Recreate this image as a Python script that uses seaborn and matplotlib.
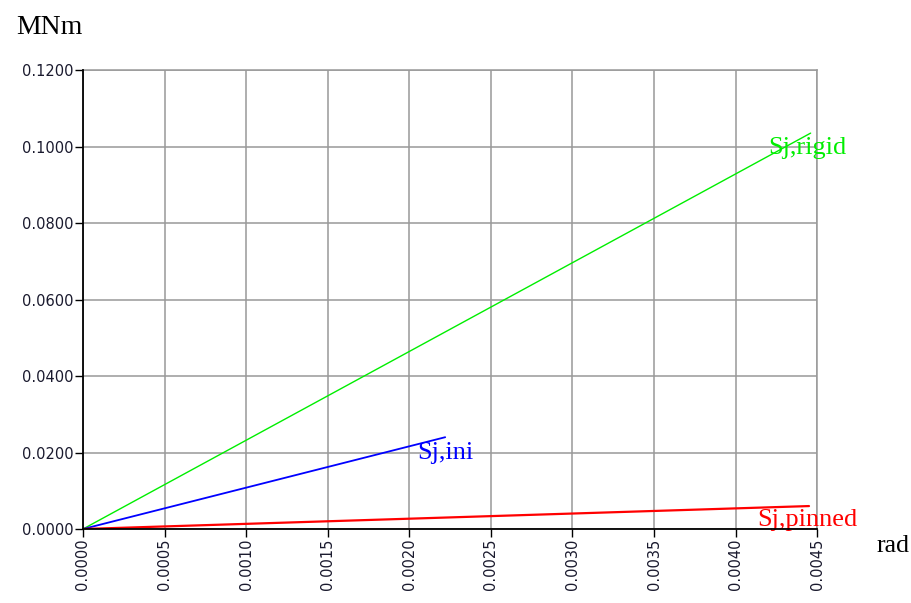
import numpy as np
import pandas as pd
import matplotlib
matplotlib.use("Agg")
import matplotlib.pyplot as plt
import seaborn as sns

# ── data ──
series_names = ["Sj,rigid", "Sj,ini", "Sj,pinned"]
series_colors = ["#00ee00", "#0000ff", "#ff0000"]
rigid_rad = [0.0, 0.00446]
rigid_mnm = [0.0, 0.1035]
ini_rad = [0.0, 0.00222]
ini_mnm = [0.0, 0.0240]
pinned_rad = [0.0, 0.00445]
pinned_mnm = [0.0, 0.0060]

# label anchors (left edge, vertical centre) in data units
label_rad = [0.00420, 0.00205, 0.00413]
label_mnm = [0.0996, 0.0200, 0.0024]

x_ticks = np.arange(0, 0.00451, 0.0005)
y_ticks = np.arange(0, 0.1201, 0.02)

df = pd.concat([
    pd.DataFrame({"rad": rigid_rad, "MNm": rigid_mnm, "curve": "Sj,rigid"}),
    pd.DataFrame({"rad": ini_rad, "MNm": ini_mnm, "curve": "Sj,ini"}),
    pd.DataFrame({"rad": pinned_rad, "MNm": pinned_mnm, "curve": "Sj,pinned"}),
])

sns.set_style("white")
plt.rcParams['font.family'] = ['DejaVu Sans']

fig = plt.figure(figsize=(9.12, 6.03), dpi=100)
ax = fig.add_axes([0.091, 0.1227, 0.805, 0.7612])

# grid first so the curves sit on top
ax.set_axisbelow(True)
ax.grid(True, color="#999999", linewidth=1.1)

widths = {"Sj,rigid": 1.0, "Sj,ini": 1.3, "Sj,pinned": 1.6}
for name, col in zip(series_names, series_colors):
    sns.lineplot(data=df[df["curve"] == name], x="rad", y="MNm", color=col,
                 linewidth=widths[name], ax=ax, legend=False, zorder=3)

for name, col, lx, ly in zip(series_names, series_colors, label_rad, label_mnm):
    ax.text(lx, ly, name, color=col, ha="left", va="center",
            fontsize=19, family="Liberation Serif", zorder=4)

ax.set_xlim(0, 0.0045)
ax.set_ylim(0, 0.12)
ax.set_xticks(x_ticks)
ax.set_yticks(y_ticks)
ax.set_xticklabels([f"{v:.4f}" for v in x_ticks], rotation=90)
ax.set_yticklabels([f"{v:.4f}" for v in y_ticks])
ax.tick_params(axis="both", which="major", direction="out", length=6, width=1,
               color="black", labelsize=10.5, labelcolor="#1a1a2e", pad=1,
               bottom=True, left=True)

for s in ["top", "right"]:
    ax.spines[s].set_color("#999999")
    ax.spines[s].set_linewidth(1.1)
for s in ["left", "bottom"]:
    ax.spines[s].set_color("black")
    ax.spines[s].set_linewidth(1.3)
    ax.spines[s].set_zorder(5)

ax.set_xlabel("")
ax.set_ylabel("")
fig.text(0.018, 0.955, "MNm", fontsize=20, family="Liberation Serif",
         color="black", ha="left", va="center")
fig.text(0.961, 0.095, "rad", fontsize=18.5, family="Liberation Serif",
         color="black", ha="left", va="center")

fig.savefig("out.png", dpi=100)
